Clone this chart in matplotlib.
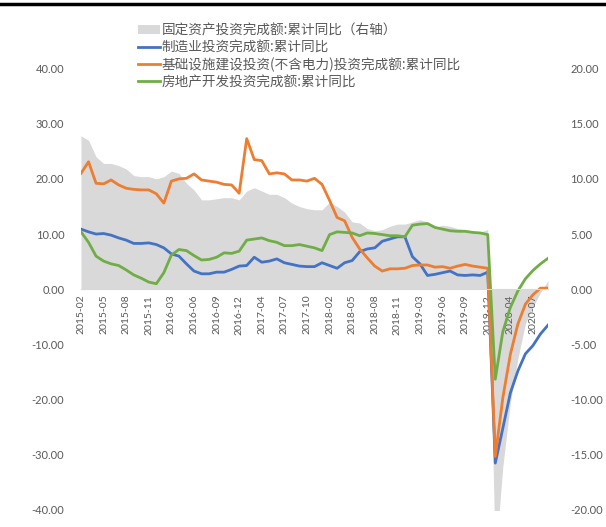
import matplotlib
matplotlib.use("Agg")
import matplotlib.pyplot as plt
from matplotlib.lines import Line2D
from matplotlib.patches import Patch

plt.rcParams['font.family'] = ['Lato', 'Noto Sans CJK SC', 'DejaVu Sans']

months = [
    "2015-02", "2015-03", "2015-04", "2015-05", "2015-06", "2015-07", "2015-08", "2015-09", "2015-10", "2015-11", "2015-12",
    "2016-02", "2016-03", "2016-04", "2016-05", "2016-06", "2016-07", "2016-08", "2016-09", "2016-10", "2016-11", "2016-12",
    "2017-02", "2017-03", "2017-04", "2017-05", "2017-06", "2017-07", "2017-08", "2017-09", "2017-10", "2017-11", "2017-12",
    "2018-02", "2018-03", "2018-04", "2018-05", "2018-06", "2018-07", "2018-08", "2018-09", "2018-10", "2018-11", "2018-12",
    "2019-02", "2019-03", "2019-04", "2019-05", "2019-06", "2019-07", "2019-08", "2019-09", "2019-10", "2019-11", "2019-12",
    "2020-02", "2020-03", "2020-04", "2020-05", "2020-06", "2020-07", "2020-08", "2020-09",
]

# 固定资产投资完成额:累计同比 (右轴)
fixed_asset = [
    13.9, 13.5, 12.0, 11.4, 11.4, 11.2, 10.9, 10.3, 10.2, 10.2, 10.0,
    10.2, 10.7, 10.5, 9.6, 9.0, 8.1, 8.1, 8.2, 8.3, 8.3, 8.1,
    8.9, 9.2, 8.9, 8.6, 8.6, 8.3, 7.8, 7.5, 7.3, 7.2, 7.2,
    7.9, 7.5, 7.0, 6.1, 6.0, 5.5, 5.3, 5.4, 5.7, 5.9, 5.9,
    6.1, 6.3, 6.1, 5.6, 5.8, 5.7, 5.5, 5.4, 5.2, 5.2, 5.4,
    -24.5, -16.1, -10.3, -6.3, -3.1, -1.6, -0.3, 0.8,
]

# 制造业投资完成额:累计同比
manufacturing = [
    10.9, 10.4, 10.0, 10.1, 9.8, 9.3, 8.9, 8.3, 8.3, 8.4, 8.1,
    7.5, 6.4, 6.0, 4.6, 3.3, 2.8, 2.8, 3.1, 3.1, 3.6, 4.2,
    4.3, 5.8, 4.9, 5.1, 5.5, 4.8, 4.5, 4.2, 4.1, 4.1, 4.8,
    4.3, 3.8, 4.8, 5.2, 6.8, 7.3, 7.5, 8.7, 9.1, 9.5, 9.5,
    5.9, 4.6, 2.5, 2.7, 3.0, 3.3, 2.6, 2.5, 2.6, 2.5, 3.1,
    -31.5, -25.2, -18.8, -14.8, -11.7, -10.2, -8.1, -6.5,
]

# 基础设施建设投资(不含电力)投资完成额:累计同比
infrastructure = [
    21.0, 23.1, 19.2, 19.1, 19.8, 18.9, 18.3, 18.1, 18.0, 18.0, 17.3,
    15.6, 19.6, 20.0, 20.1, 20.9, 19.8, 19.6, 19.4, 19.0, 18.9, 17.4,
    27.3, 23.5, 23.3, 20.9, 21.1, 20.9, 19.8, 19.8, 19.6, 20.1, 19.0,
    16.1, 13.0, 12.4, 9.4, 7.3, 5.7, 4.2, 3.3, 3.7, 3.7, 3.8,
    4.3, 4.4, 4.4, 4.0, 4.1, 3.8, 4.2, 4.5, 4.2, 4.0, 3.8,
    -30.3, -19.7, -11.8, -6.3, -2.7, -1.0, 0.2, 0.2,
]

# 房地产开发投资完成额:累计同比
real_estate = [
    10.4, 8.5, 6.0, 5.1, 4.6, 4.3, 3.5, 2.6, 2.0, 1.3, 1.0,
    3.0, 6.2, 7.2, 7.0, 6.1, 5.3, 5.4, 5.8, 6.6, 6.5, 6.9,
    8.9, 9.1, 9.3, 8.8, 8.5, 7.9, 7.9, 8.1, 7.8, 7.5, 7.0,
    9.9, 10.4, 10.3, 10.2, 9.7, 10.2, 10.1, 9.9, 9.7, 9.7, 9.5,
    11.6, 11.8, 11.9, 11.2, 10.9, 10.6, 10.5, 10.5, 10.3, 10.2, 9.9,
    -16.3, -7.7, -3.3, -0.3, 1.9, 3.4, 4.6, 5.6,
]

labels = [
    "固定资产投资完成额:累计同比（右轴）",
    "制造业投资完成额:累计同比",
    "基础设施建设投资(不含电力)投资完成额:累计同比",
    "房地产开发投资完成额:累计同比",
]

left_ticks = [40, 30, 20, 10, 0, -10, -20, -30, -40]
right_ticks = [20, 15, 10, 5, 0, -5, -10, -15, -20]

GRAY_AREA = "#D9D9D9"
BLUE = "#4472C4"
ORANGE = "#ED7D31"
GREEN = "#70AD47"
TXT = "#595959"

W, H = 606, 527
fig = plt.figure(figsize=(W / 100, H / 100), dpi=100)
x0, x1 = 81, 548
y_top, y_bot = 68.5, 510
ax = fig.add_axes([x0 / W, 1 - y_bot / H, (x1 - x0) / W, (y_bot - y_top) / H])
ax2 = ax.twinx()

x = list(range(len(months)))

ax2.fill_between(x, 0, fixed_asset, color=GRAY_AREA, linewidth=0)
ax2.set_ylim(-20, 20)
ax2.set_yticks(right_ticks)
ax2.set_yticklabels([f"{v:.2f}" for v in right_ticks])

ax.plot(x, manufacturing, color=BLUE, lw=2.0)
ax.plot(x, infrastructure, color=ORANGE, lw=2.0)
ax.plot(x, real_estate, color=GREEN, lw=2.0)
ax.set_ylim(-40, 40)
ax.set_xlim(0, len(months) - 1)
ax.set_yticks(left_ticks)
ax.set_yticklabels([f"{v:.2f}" for v in left_ticks])

ax.set_zorder(ax2.get_zorder() + 1)
ax.patch.set_visible(False)

tick_idx = list(range(0, len(months), 3))
ax.set_xticks(tick_idx)
ax.set_xticklabels([months[i] for i in tick_idx])
ax.spines['bottom'].set_position(('data', 0))
for a in (ax, ax2):
    for s in a.spines.values():
        s.set_visible(False)
ax.spines['bottom'].set_visible(True)
ax.spines['bottom'].set_color("#D9D9D9")
ax.spines['bottom'].set_linewidth(0.8)

ax.tick_params(axis='x', length=0, pad=4, labelrotation=90, labelsize=7.5, labelcolor=TXT)
ax.tick_params(axis='y', length=0, pad=12, labelsize=8, labelcolor=TXT)
ax2.tick_params(axis='y', length=0, pad=16, labelsize=8, labelcolor=TXT)

handles = [
    Patch(facecolor=GRAY_AREA, edgecolor='none'),
    Line2D([0], [0], color=BLUE, lw=2.0),
    Line2D([0], [0], color=ORANGE, lw=2.0),
    Line2D([0], [0], color=GREEN, lw=2.0),
]
leg = fig.legend(handles, labels, loc='upper left', bbox_to_anchor=(133 / W, 1 - 18 / H),
                 frameon=False, handlelength=1.6, handleheight=0.6, handletextpad=0.1,
                 labelspacing=0.22, borderaxespad=0,
                 prop={'family': ['Noto Sans CJK SC', 'DejaVu Sans'], 'size': 9.8})
for t in leg.get_texts():
    t.set_color(TXT)

fig.add_artist(Line2D([0, 1], [1 - 4 / H, 1 - 4 / H], color="black", lw=2.5, transform=fig.transFigure))

fig.savefig("out.png", dpi=100)
